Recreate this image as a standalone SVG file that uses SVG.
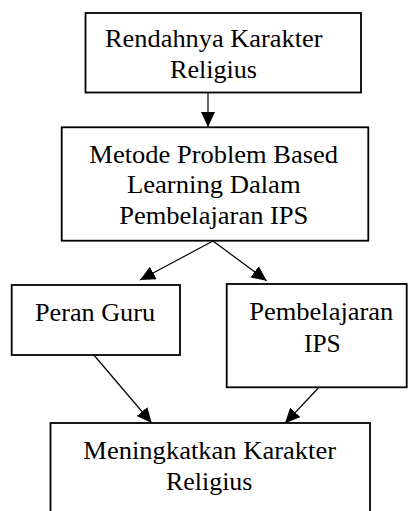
<svg xmlns="http://www.w3.org/2000/svg" width="408" height="511" viewBox="0 0 408 511">
<style>
.box{fill:#fff;stroke:#000;stroke-width:1.8}
.t{font-family:"Liberation Serif","Times New Roman",serif;font-size:25px;fill:#000;text-anchor:middle}
.c{stroke:#000;stroke-width:1.2;fill:none}
</style>
<defs>
<marker id="ah" markerUnits="userSpaceOnUse" markerWidth="16" markerHeight="15" refX="15" refY="7" orient="auto">
<path d="M0,0 L15,7 L0,14 z" fill="#000"/>
</marker>
</defs>
<rect width="408" height="511" fill="#fff"/>
<g id="connectors">
<line class="c" x1="208" y1="93" x2="208" y2="127" marker-end="url(#ah)"/>
<line class="c" x1="213" y1="241" x2="140" y2="280" marker-end="url(#ah)"/>
<line class="c" x1="213" y1="241" x2="266.7" y2="280.7" marker-end="url(#ah)"/>
<line class="c" x1="94.3" y1="355.5" x2="151.7" y2="423" marker-end="url(#ah)"/>
<line class="c" x1="318.3" y1="388" x2="285" y2="423.3" marker-end="url(#ah)"/>
</g>
<g id="n1">
<rect class="box" x="85.5" y="13" width="275.5" height="79.5"/>
<text class="t" x="213.8" y="47" textLength="217.7" lengthAdjust="spacingAndGlyphs">Rendahnya Karakter</text>
<text class="t" x="213.5" y="78.3" textLength="87" lengthAdjust="spacingAndGlyphs">Religius</text>
</g>
<g id="n2">
<rect class="box" x="61.7" y="127.3" width="306.6" height="113.4"/>
<text class="t" x="213.7" y="162.7" textLength="248.7" lengthAdjust="spacingAndGlyphs">Metode Problem Based</text>
<text class="t" x="213.8" y="192.7" textLength="173.7" lengthAdjust="spacingAndGlyphs">Learning Dalam</text>
<text class="t" x="213.8" y="224" textLength="189" lengthAdjust="spacingAndGlyphs">Pembelajaran IPS</text>
</g>
<g id="n3">
<rect class="box" x="11.7" y="285" width="168.3" height="70"/>
<text class="t" x="95" y="320.7" textLength="120" lengthAdjust="spacingAndGlyphs">Peran Guru</text>
</g>
<g id="n4">
<rect class="box" x="226.7" y="284" width="180" height="103.3"/>
<text class="t" x="321.3" y="320" textLength="144" lengthAdjust="spacingAndGlyphs">Pembelajaran</text>
<text class="t" x="322.3" y="351.7" textLength="36.7" lengthAdjust="spacingAndGlyphs">IPS</text>
</g>
<g id="n5">
<rect class="box" x="50.5" y="423" width="319.5" height="95"/>
<text class="t" x="209.7" y="459.3" textLength="252.7" lengthAdjust="spacingAndGlyphs">Meningkatkan Karakter</text>
<text class="t" x="209.2" y="490" textLength="86.3" lengthAdjust="spacingAndGlyphs">Religius</text>
</g>
</svg>
